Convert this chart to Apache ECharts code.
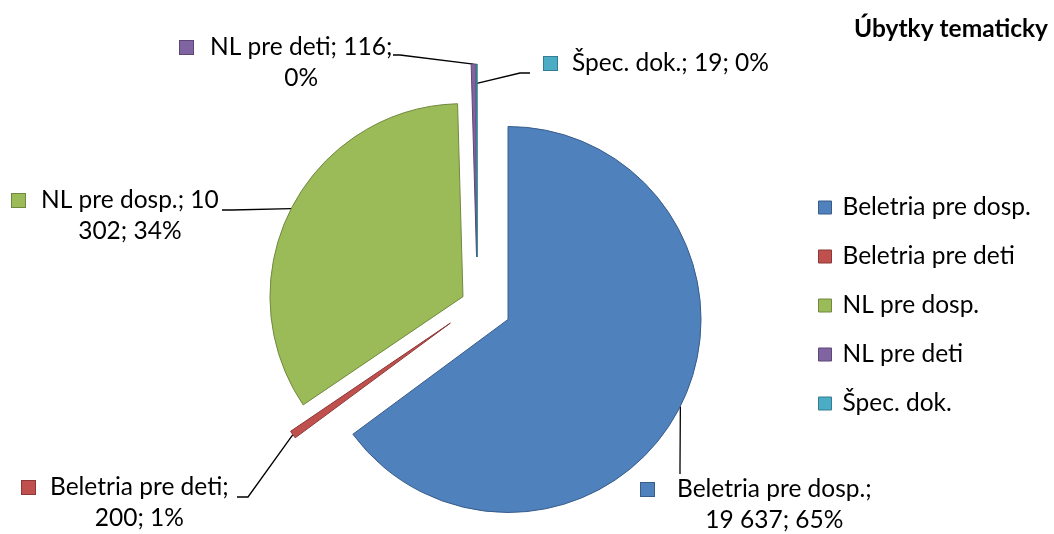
<!DOCTYPE html>
<html><head><meta charset="utf-8">
<script src="https://cdn.jsdelivr.net/npm/echarts@6/dist/echarts.min.js"></script>
<style>html,body{margin:0;padding:0;background:#fff}#c{width:1054px;height:534px}</style>
</head><body><div id="c"></div>
<script>
// ---- data ----
const categories = ['Beletria pre dosp.', 'Beletria pre deti', 'NL pre dosp.', 'NL pre deti', 'Špec. dok.'];
const values = [19637, 200, 10302, 116, 19];
const titleText = 'Úbytky tematicky';

// ---- style / layout ----
const colors = ['#4F81BD', '#C0504D', '#9BBB59', '#8064A2', '#4BACC6'];
const borders = ['#385D8A', '#8C3836', '#71893F', '#5C4776', '#357D91'];
const FONT = 'Lato, "Open Sans", sans-serif';
const FS = 24.5;
const LH = 31;
const PIE_CENTER = [477.3, 304];
const PIE_R = 193;
const EXPLODE = [34.4, 33, 16.1, 47, 47];
const LABELS = [
  { x: 641, y: 474, gap: 23, brk: 3, anchor: 1.0, pts: [[680, 468], [680, 474]] },
  { x: 22, y: 472, gap: 15, brk: 3, anchor: 1.0, pts: [[248, 497], [237, 497]] },
  { x: 12, y: 185, gap: 16, brk: 4, anchor: 1.0, pts: [[232, 210], [222, 210]] },
  { x: 180, y: 32, gap: 17, brk: 4, anchor: 1.0, pts: [[400, 55], [393, 55]] },
  { x: 544, y: 48, gap: 15, brk: 99, anchor: 0.9, pts: [[520, 73], [530, 73]] }
];

const total = values.reduce((a, b) => a + b, 0);
const fmtNum = v => String(v).replace(/\B(?=(\d{3})+(?!\d))/g, ' ');

const series = categories.map((name, i) => {
  const before = values.slice(0, i).reduce((a, b) => a + b, 0);
  const theta = 2 * Math.PI * (before + values[i] / 2) / total;
  const dir = [Math.sin(theta), -Math.cos(theta)];
  const c = [PIE_CENTER[0] + EXPLODE[i] * dir[0], PIE_CENTER[1] + EXPLODE[i] * dir[1]];
  const L = LABELS[i];
  const p0 = [c[0] + PIE_R * L.anchor * dir[0], c[1] + PIE_R * L.anchor * dir[1]];
  return {
    type: 'pie',
    silent: true,
    animation: false,
    center: c,
    radius: PIE_R,
    startAngle: 90,
    clockwise: true,
    avoidLabelOverlap: false,
    emphasis: { disabled: true },
    data: categories.map((n, j) => ({
      name: n,
      value: values[j],
      itemStyle: j === i
        ? { color: colors[j], borderColor: borders[j], borderWidth: 1 }
        : { color: 'rgba(0,0,0,0)', borderWidth: 0 },
      label: { show: j === i },
      labelLine: { show: j === i }
    })),
    label: {
      position: 'outside',
      color: '#000',
      fontFamily: FONT,
      fontSize: FS,
      formatter: p => {
        const words = (p.name + '; ' + fmtNum(p.value) + '; ' + Math.round(p.value / total * 100) + '%').split(' ');
        const l1 = words.slice(0, L.brk).join(' ');
        const l2 = words.slice(L.brk).join(' ');
        let s = '{sq|}{g|}{t|' + l1 + '}';
        if (l2) s += '\n{p|}{c|' + l2 + '}';
        return s;
      },
      rich: {
        sq: { width: 13, height: 13, backgroundColor: colors[i], borderColor: borders[i], borderWidth: 1 },
        g: { width: L.gap, height: LH },
        p: { width: 13 + L.gap, height: LH },
        t: { fontFamily: FONT, fontSize: FS, color: '#000', lineHeight: LH },
        c: { fontFamily: FONT, fontSize: FS, color: '#000', lineHeight: LH, align: 'center' }
      }
    },
    labelLine: { show: true, lineStyle: { color: '#000', width: 1.3 } },
    labelLayout: params => {
      if (params.dataIndex !== i) return {};
      return {
        x: L.x, y: L.y, align: 'left', verticalAlign: 'top',
        labelLinePoints: [p0, L.pts[0], L.pts[1]]
      };
    }
  };
});

const chart = echarts.init(document.getElementById('c'), null, { renderer: 'canvas' });
chart.setOption({
  animation: false,
  backgroundColor: '#fff',
  title: {
    text: titleText, right: 1, top: 12,
    textStyle: { fontFamily: FONT, fontSize: 24.5, fontWeight: 'bold', color: '#000' }
  },
  legend: {
    orient: 'vertical', left: 813, top: 190,
    itemWidth: 13, itemHeight: 13, itemGap: 24,
    selectedMode: false, icon: 'rect',
    textStyle: { fontFamily: FONT, fontSize: FS, color: '#000', lineHeight: 24, padding: [0, 0, 0, 6] },
    data: categories.map((n, j) => ({ name: n, itemStyle: { color: colors[j], borderColor: borders[j], borderWidth: 1 } }))
  },
  series: series
});
</script>
</body></html>
